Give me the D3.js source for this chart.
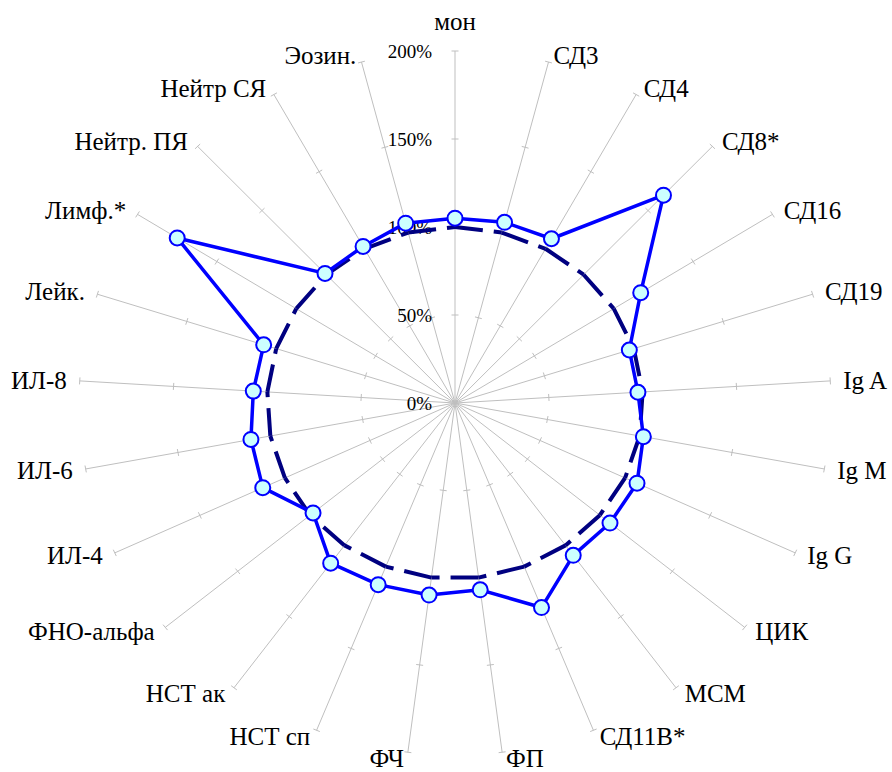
<!DOCTYPE html>
<html>
<head>
<meta charset="utf-8">
<script src="https://cdn.jsdelivr.net/npm/d3@7"></script>
<style>
  body { margin: 0; background: #fff; }
  svg { display: block; }
  .spoke { stroke: #bfbfbf; stroke-width: 1; fill: none; }
  .cat { font-family: 'Liberation Serif', Times, 'DejaVu Serif', serif; font-size: 25px; fill: #000; }
  .tick-label { font-family: 'Liberation Serif', Times, 'DejaVu Serif', serif; font-size: 19px; fill: #000; }
</style>
</head>
<body>
<div id="vis"></div>
<script>
// chart frame
const FRAME_WIDTH = 892;
const FRAME_HEIGHT = 772;
const CX = 455, CY = 403;

// data
const categories = ["мон", "СД3", "СД4", "СД8*", "СД16", "СД19", "Ig A", "Ig M", "Ig G",
  "ЦИК", "МСМ", "СД11В*", "ФП", "ФЧ", "НСТ сп", "НСТ ак", "ФНО-альфа", "ИЛ-4",
  "ИЛ-6", "ИЛ-8", "Лейк.", "Лимф.*", "Нейтр. ПЯ", "Нейтр СЯ", "Эозин."];
const patient = [105, 106, 106.5, 162, 117, 97.5, 97.5, 102, 107, 107, 107, 125, 107,
  110, 111, 112.5, 98, 113, 110.5, 107.5, 107, 175, 101, 101.5, 105.5];
const control = [100, 100, 100, 100, 100, 100, 100, 100, 100, 100, 100, 100, 100,
  100, 100, 100, 100, 100, 100, 100, 100, 100, 100, 100, 100];
const tickValues = [0, 50, 100, 150, 200];

const svg = d3.select("#vis")
  .append("svg")
    .attr("width", FRAME_WIDTH)
    .attr("height", FRAME_HEIGHT);

// the picture is a bit wider than tall, so two radial scales
const RX = d3.scaleLinear().domain([0, 200]).range([0, 376]);
const RY = d3.scaleLinear().domain([0, 200]).range([0, 352]);
const ANGLE = d3.scaleLinear().domain([0, categories.length]).range([0, 2 * Math.PI]);

function px(i, v) { return CX + RX(v) * Math.sin(ANGLE(i)); }
function py(i, v) { return CY - RY(v) * Math.cos(ANGLE(i)); }

// spokes
svg.append("g").selectAll("line")
  .data(categories)
  .enter()
  .append("line")
    .attr("class", "spoke")
    .attr("x1", CX).attr("y1", CY)
    .attr("x2", (d, i) => px(i, 200))
    .attr("y2", (d, i) => py(i, 200));

// small tick marks across every spoke
const tickData = [];
categories.forEach((c, i) => {
  tickValues.slice(1).forEach((v) => tickData.push({ i: i, v: v }));
});
svg.append("g").selectAll("line")
  .data(tickData)
  .enter()
  .append("line")
    .attr("class", "spoke")
    .attr("x1", (d) => px(d.i, d.v) + 3.5 * Math.cos(ANGLE(d.i)))
    .attr("y1", (d) => py(d.i, d.v) + 3.5 * Math.sin(ANGLE(d.i)))
    .attr("x2", (d) => px(d.i, d.v) - 3.5 * Math.cos(ANGLE(d.i)))
    .attr("y2", (d) => py(d.i, d.v) - 3.5 * Math.sin(ANGLE(d.i)));

// value labels along the top spoke
svg.append("g").selectAll("text")
  .data(tickValues)
  .enter()
  .append("text")
    .attr("class", "tick-label")
    .attr("x", CX - 23)
    .attr("y", (d) => CY - RY(d))
    .attr("dy", "0.35em")
    .attr("text-anchor", "end")
    .text((d) => d + "%");

// category labels
svg.append("g").selectAll("text")
  .data(categories)
  .enter()
  .append("text")
    .attr("class", "cat")
    .attr("x", (d, i) => {
      const s = Math.sin(ANGLE(i));
      if (Math.abs(s) < 0.01) return px(i, 200);
      return px(i, 200) + Math.sign(s) * (2.5 + 10.5 * Math.abs(s));
    })
    .attr("y", (d, i) => {
      const c = Math.cos(ANGLE(i));
      if (Math.abs(Math.sin(ANGLE(i))) < 0.01) return py(i, 200) - 30;
      return py(i, 200) - c * 7 - 0.5;
    })
    .attr("dy", "0.35em")
    .attr("text-anchor", (d, i) => {
      const s = Math.sin(ANGLE(i));
      if (Math.abs(s) < 0.01) return "middle";
      return s > 0 ? "start" : "end";
    })
    .text((d) => d);

// control series (long dash, pattern restarts on every segment like Excel)
const controlSegs = control.map((v, i) => {
  const j = (i + 1) % control.length;
  return { i: i, j: j, a: v, b: control[j] };
});
svg.append("g").selectAll("line")
  .data(controlSegs)
  .enter()
  .append("line")
    .attr("x1", (d) => px(d.i, d.a))
    .attr("y1", (d) => py(d.i, d.a))
    .attr("x2", (d) => px(d.j, d.b))
    .attr("y2", (d) => py(d.j, d.b))
    .attr("stroke", "#000080")
    .attr("stroke-width", 4)
    .attr("stroke-dasharray", "28,11");

// patient series
const lineGen = d3.line()
  .x((d, i) => px(i, d))
  .y((d, i) => py(i, d))
  .curve(d3.curveLinearClosed);

svg.append("path")
  .attr("d", lineGen(patient))
  .attr("fill", "none")
  .attr("stroke", "#0000ff")
  .attr("stroke-width", 3.5)
  .attr("stroke-linejoin", "round");

svg.append("g").selectAll("circle")
  .data(patient)
  .enter()
  .append("circle")
    .attr("cx", (d, i) => px(i, d))
    .attr("cy", (d, i) => py(i, d))
    .attr("r", 7.5)
    .attr("fill", "#ccffff")
    .attr("stroke", "#0000ff")
    .attr("stroke-width", 2);
</script>
</body>
</html>
